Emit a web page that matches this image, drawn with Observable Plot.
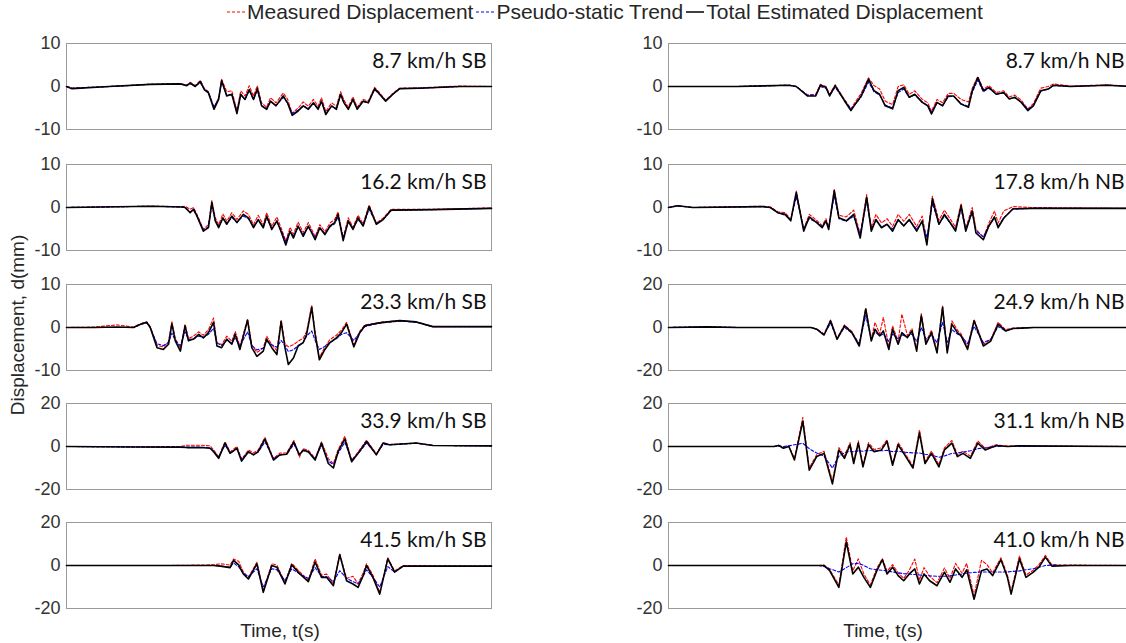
<!DOCTYPE html>
<html><head><meta charset="utf-8">
<script src="https://cdn.jsdelivr.net/npm/d3@7"></script>
<script src="https://cdn.jsdelivr.net/npm/@observablehq/plot@0.6"></script>
<style>
body{margin:0;background:#fff;}
#root{position:relative;width:1126px;height:643px;overflow:hidden;font-family:"Liberation Sans",Arial,sans-serif;color:#262626;}
.panel{position:absolute;}
#legend{position:absolute;top:0px;left:226px;white-space:nowrap;font-size:21px;display:flex;align-items:center;}
#legend .it{display:flex;align-items:center;margin-right:2px;}
#legend svg{margin-right:1px;}
.xt{position:absolute;top:620px;font-size:19px;transform:translateX(-50%);white-space:nowrap;}
#ytitle{position:absolute;left:18px;top:325px;font-size:19px;white-space:nowrap;transform:translate(-50%,-50%) rotate(-90deg);}
</style></head>
<body><div id="root">
<div id="legend">
<span class="it"><svg width="20" height="10"><line x1="1" x2="19" y1="5" y2="5" stroke="#ff0000" stroke-width="1.2" stroke-dasharray="3,2"/></svg>Measured Displacement</span>
<span class="it"><svg width="20" height="10"><line x1="1" x2="19" y1="5" y2="5" stroke="#0000ff" stroke-width="1.2" stroke-dasharray="3,2"/></svg>Pseudo-static Trend</span>
<span class="it"><svg width="20" height="10"><line x1="1" x2="19" y1="5" y2="5" stroke="#000" stroke-width="1.5"/></svg>Total Estimated Displacement</span>
</div>
<div id="ytitle">Displacement, d(mm)</div>
<div class="xt" style="left:280px">Time, t(s)</div>
<div class="xt" style="left:883px">Time, t(s)</div>
</div>
<script>
// ---------- 8.7 km/h SB ----------
const sb87_t = [0,1.3,10,19.7,26.8,28.3,29.1,30.3,31.5,32.4,33.4,34.7,35.8,36.5,37.7,38.9,40.1,41.0,42.0,43.0,44.0,44.9,45.9,47.1,48.0,49.3,51.0,52.0,53.1,54.5,55.7,56.9,58.1,59.2,60.0,61.0,62.4,63.5,64.5,65.3,66.3,67.4,68.4,69.8,71.0,72.5,73.7,75.1,76.8,78.4,83.1,92.5,100];
const sb87_total = [0,-0.5,0,0.5,0.6,0.2,0.8,0,1.2,-0.7,-1.5,-5.3,-3,1.4,-2.2,-1.8,-6.3,-1.8,-3,-0.7,-3,-0.5,-4.5,-5.3,-3.4,-4.5,-2.2,-3.8,-6.7,-5.7,-4.5,-5.3,-3.8,-5.3,-3.4,-6.5,-4.5,-5.3,-1.8,-3.8,-5.3,-3,-5.3,-3.4,-3.8,-0.5,-1.8,-3.4,-1.8,-0.5,-0.4,0,0];
const sb87_meas = [0,-0.4,0,0.5,0.7,0.3,1.0,0.2,1.4,-0.4,-1.2,-5.0,-2.6,1.7,-1.2,-1.0,-5.6,-1.0,-2.2,0.2,-2.2,0.2,-3.8,-4.8,-2.6,-3.8,-1.5,-2.9,-6.2,-5.0,-3.6,-4.6,-3.0,-4.6,-2.6,-5.8,-3.8,-4.6,-1.2,-3.2,-4.8,-2.4,-4.8,-3.0,-3.4,-0.2,-1.5,-3.2,-1.6,-0.4,-0.3,0.1,0];
const sb87_trend = [0,-0.4,0,0.5,0.6,0.3,0.6,0.2,0.8,-0.5,-1.4,-4.8,-2.8,1.0,-2.0,-1.8,-5.8,-2.0,-3.0,-1.0,-3.0,-0.8,-4.4,-5.1,-3.5,-4.4,-2.5,-3.8,-6.3,-5.5,-4.5,-5.1,-3.9,-5.1,-3.6,-6.1,-4.6,-5.1,-2.0,-3.8,-5.1,-3.1,-5.1,-3.5,-3.7,-0.7,-1.9,-3.3,-1.8,-0.5,-0.4,0,0];
// ---------- 16.2 km/h SB ----------
const sb162_t = [0,20,27.2,27.9,29.1,29.9,30.7,32.2,33.4,34.2,35.0,35.8,36.8,37.7,38.9,40.1,41.6,42.8,44.0,45.1,46.3,47.1,48.3,49.5,50.6,51.6,52.6,53.4,54.5,55.7,56.9,58.5,59.6,60.8,62.0,63.1,63.9,65.1,66.3,67.4,68.6,69.8,71.2,72.9,74.5,76.4,86.2,100];
const sb162_total = [0,0.3,0.1,0,-1.2,-0.4,-2,-5.5,-4.7,1.2,-3.1,-4.7,-2.4,-3.9,-2,-3.5,-1.6,-2.4,-4.7,-2.8,-4.7,-2,-5.1,-3.1,-5.9,-8.7,-5.5,-7.1,-4.3,-6.7,-4.3,-7.5,-4.7,-6.3,-4.3,-3.5,-1.6,-7.7,-3.1,-5.1,-2.4,-4.3,0.2,-3.9,-2.8,-0.6,-0.5,-0.2];
const sb162_meas = [0,0.3,0.2,0.3,-0.4,0,-1.6,-5.0,-4.0,1.6,-2.4,-4.0,-1.5,-3.2,-1.2,-2.8,-0.8,-1.6,-4.0,-1.8,-4.0,-1.2,-4.4,-2.2,-5.0,-7.8,-4.6,-6.2,-3.4,-5.8,-3.5,-6.8,-4.0,-5.6,-3.6,-2.8,-1.0,-7.0,-2.4,-4.6,-1.8,-3.8,0.6,-3.6,-2.5,-0.4,-0.4,-0.1];
const sb162_trend = [0,0.3,0.1,0,-1.0,-0.6,-2,-5.2,-4.5,0.6,-3.0,-4.4,-2.6,-3.7,-2.3,-3.4,-2.0,-2.6,-4.4,-3.0,-4.4,-2.4,-4.8,-3.4,-5.5,-7.9,-5.6,-6.6,-4.6,-6.2,-4.6,-6.9,-4.9,-6.0,-4.5,-3.8,-2.2,-7.0,-3.4,-4.9,-2.8,-4.2,-0.4,-3.7,-2.8,-0.7,-0.5,-0.2];
// ---------- 23.3 km/h SB ----------
const sb233_t = [0,6.4,11.9,15.8,16.6,17.8,18.9,19.7,21.3,22.8,24.0,24.8,25.6,26.8,27.9,28.7,29.9,31.1,32.2,33.4,34.6,35.4,36.5,37.7,38.9,39.7,40.8,42.6,43.6,44.8,46.3,47.1,48.3,49.5,50.5,51.4,52.2,53.4,54.5,55.7,56.5,57.7,58.5,59.5,60.8,62.0,63.5,64.7,65.9,67.6,69.0,70.2,72.1,74.5,78.4,82.3,86.2,100];
const sb233_total = [0,0,0.1,0,0.4,0.9,1.2,0,-4.7,-5.1,-3.9,0.9,-3.1,-5.5,0.4,-3.1,-2.7,-1.6,-2.4,-1.2,1.2,-4.3,-4.7,-2.7,-3.9,-1.6,-5.1,1.7,-4.7,-6.7,-5.5,-2.7,-4.7,-6.3,1.4,-4.7,-8.6,-7.1,-4.3,-3.5,-1.6,4.7,-1.6,-7.5,-5.1,-3.5,-2.4,-1.2,0.8,-4.5,-1.2,0.4,0.8,1.2,1.6,1.3,0.2,0.2];
const sb233_meas = [0,0.1,0.6,0.1,0.5,1.0,1.3,0.2,-4.2,-4.5,-3.3,1.3,-2.6,-4.8,0.8,-2.6,-2.0,-1.0,-1.8,-0.5,2.2,-3.5,-4.0,-2.0,-3.2,-0.9,-4.4,2.0,-4.0,-5.8,-4.8,-2.0,-4.0,-5.4,1.8,-3.8,-4.5,-4.0,-3.2,-2.5,-0.9,5.2,-1.0,-7.0,-4.5,-2.8,-1.8,-0.6,1.2,-4.0,-0.9,0.6,0.9,1.3,1.6,1.3,0.2,0.2];
const sb233_trend = [0,0,0,0,0.3,0.8,1.0,0,-3.8,-4.2,-3.5,-1.3,-3.0,-4.2,-1.0,-2.8,-2.6,-2.0,-2.3,-1.6,-0.2,-3.6,-4.2,-3.0,-3.6,-2.4,-4.3,-1.0,-4.2,-5.2,-4.8,-3.2,-4.0,-4.6,-3.0,-4.2,-5.6,-5.2,-4.2,-3.5,-2.0,-0.8,-3.0,-5.1,-4.4,-3.5,-2.6,-1.6,-1.2,-3.0,-1.2,0.2,0.7,1.1,1.5,1.2,0.2,0.2];
// ---------- 33.9 km/h SB ----------
const sb339_t = [0,15.8,26.8,28.3,31.5,33.8,34.6,35.8,37.3,38.5,40.1,41.2,42.8,44.0,45.1,46.7,48.7,50.2,51.8,53.5,54.8,55.7,56.9,58.5,60.0,61.6,62.8,63.9,65.5,67.1,68.6,70.6,72.9,74.5,76.0,82.3,86.2,100];
const sb339_total = [0,-0.2,-0.3,-0.5,-0.5,-0.8,-2.4,-5.5,1.6,-3.2,-0.8,-6.8,-2.4,-3.9,-2.4,3.5,-6.3,-3.9,-3.6,2.1,-3.9,-1.6,-2.4,-6.3,1.6,-7.9,-10,-2.4,3.5,-7.1,-3.2,2.4,-3.9,1.6,0.8,1.6,0.5,0.3];
const sb339_meas = [0,-0.1,0,0.6,0.6,0.3,-1.5,-4.8,2.2,-2.5,0,-6.0,-1.6,-3.0,-1.6,4.2,-5.6,-3.0,-3.0,2.8,-5.0,-1.0,-1.8,-5.5,2.2,-5.6,-8.0,-1.5,4.8,-6.4,-2.6,3.0,-3.4,1.8,0.9,1.6,0.5,0.3];
const sb339_trend = [0,-0.2,-0.3,-0.3,-0.3,-0.6,-2.2,-4.8,0.6,-3.0,-1.2,-5.8,-2.8,-3.8,-2.6,2.2,-5.6,-3.9,-3.6,1.0,-3.6,-2.0,-2.6,-5.6,0.6,-6.8,-8.4,-3.2,2.0,-6.4,-3.4,1.6,-3.6,1.0,0.7,1.5,0.5,0.3];
// ---------- 41.5 km/h SB ----------
const sb415_t = [0,23.6,34.6,36.2,38.5,39.3,40.5,41.6,42.8,44.8,46.3,48.3,49.5,51.4,53.0,54.9,56.9,58.5,60.0,61.2,62.8,64.3,65.9,67.4,68.6,69.8,70.6,72.1,73.7,75.6,77.2,79.2,100];
const sb415_total = [0,0,0,-0.3,-1.0,2.4,0.3,-3.9,-6.3,0.8,-12.5,0,-0.8,-8.6,0.3,-3.9,-7.5,1.6,-5.5,-5.5,-9.4,5.0,-7.1,-8.6,-10.2,-4.7,0,-5.5,-13.3,3.1,-3.1,-0.3,-0.3];
const sb415_meas = [0,0,0.3,0.8,0.2,3.0,2.0,-3.0,-5.5,1.5,-11.5,0.8,0.2,-7.8,1.0,-3.0,-6.8,3.1,-4.5,-4.0,-8.6,5.4,-6.0,-5.0,-8.5,-3.5,0.8,-4.5,-12.5,3.6,-2.5,0,-0.3];
const sb415_trend = [0,0,0,-0.2,-0.8,1.2,-0.6,-3.6,-5.2,-1.5,-10.0,-1.5,-2.0,-7.0,-1.5,-4.0,-6.0,-1.0,-5.0,-5.2,-7.5,-2.4,-6.0,-7.5,-8.6,-5.0,-2.0,-5.5,-10.0,-0.5,-3.0,-0.4,-0.3];
// ---------- 8.7 km/h NB ----------
const nb87_t = [0,14.8,26.0,27.6,30.0,31.8,32.8,34.0,34.8,36.0,38.0,39.4,40.6,41.6,43.2,44.4,45.6,46.8,48.4,49.6,50.8,52.0,53.2,54.8,56.0,56.8,58.0,59.2,60.4,61.6,63.2,64.8,65.6,66.8,68.0,69.2,70.8,72.4,73.6,74.8,76.2,77.6,78.8,80.4,82.0,83.2,86.8,94.8,100];
const nb87_total = [0,0,0.3,0,-2.2,-2.2,0.3,-0.2,-2.2,0.2,-3.3,-5.6,-3.7,-2.2,1.7,-1,-1.8,-4.5,-5.2,-1,-0.2,-2.5,-1.8,-3.7,-4.5,-6.4,-3.7,-4.5,-2.2,-2.2,-4.1,-4.8,-1,2.1,-1,-0.2,-1.8,-1.4,-2.9,-2.5,-3.7,-5.6,-4.5,-1,-0.6,0.3,0,0.3,0];
const nb87_meas = [0,0,0.3,0,-2.0,-1.8,0.5,0,-1.8,0.4,-3.0,-5.2,-3.2,-1.6,2.0,0.2,-0.6,-3.4,-4.2,0,0.4,-1.8,-1.0,-3.0,-3.8,-5.8,-3.0,-3.8,-1.6,-1.6,-3.0,-3.6,-0.4,2.3,-0.6,0.2,-1.4,-1.0,-2.4,-2.0,-3.2,-5.2,-4.0,-0.4,0,0.6,0.1,0.4,0];
const nb87_trend = [0,0,0.3,0,-2.0,-2.0,0,-0.4,-2.0,-0.2,-3.2,-5.2,-3.8,-2.4,1.0,-1.2,-2.0,-4.3,-5.0,-1.4,-0.6,-2.5,-2.0,-3.6,-4.4,-6.0,-3.8,-4.4,-2.4,-2.3,-4.0,-4.6,-1.4,1.5,-1.2,-0.4,-1.8,-1.5,-2.8,-2.6,-3.6,-5.3,-4.4,-1.1,-0.6,0.2,0,0.3,0];
// ---------- 17.8 km/h NB ----------
const nb178_t = [0,2.0,5.2,20.4,22.0,23.6,25.2,26.4,27.6,29.2,30.4,32.0,33.2,34.0,34.6,35.8,36.8,38.4,40.0,41.4,42.8,43.8,44.8,46.0,47.2,48.4,49.6,50.8,52.0,53.6,54.8,55.8,57.0,58.4,59.6,60.8,62.0,63.2,64.2,65.6,66.4,68.0,69.2,70.4,71.2,72.4,74.4,78.8,100];
const nb178_total = [0,0.4,0,0.2,0,-1.2,-1.6,-3.1,3.5,-5.5,-2.2,-3.5,-4.7,-3.1,-5.1,3.9,-2.4,-3.1,-1.6,-7.1,2.4,-5.5,-2.8,-4.7,-3.9,-5.5,-2.8,-4.3,-2.8,-5.5,-3.1,-8.7,2.0,-3.9,-1.6,-3.5,-5.5,0.4,-5.5,-0.8,-5.9,-7.5,-4.3,-2.2,-4.7,-2.5,-0.3,-0.2,-0.2];
const nb178_meas = [0,0.4,0,0.3,0.1,-1.0,-1.2,-2.8,3.8,-5.0,-1.6,-3.0,-4.2,-2.6,-4.6,4.2,-1.8,-2.2,-0.6,-6.2,3.0,-4.6,-1.6,-3.6,-2.6,-4.4,-1.6,-3.2,-1.6,-4.4,-2.0,-7.8,2.6,-3.0,-0.6,-2.6,-4.6,1.0,-4.8,0,-5.0,-7.0,-3.6,-0.8,-3.6,-0.8,0.2,0,-0.2];
const nb178_trend = [0,0.4,0,0.2,0,-1.2,-1.8,-2.8,2.5,-4.8,-2.6,-3.4,-4.4,-3.2,-4.6,2.8,-2.6,-3.2,-2.0,-6.2,1.5,-5.0,-3.0,-4.5,-3.9,-5.0,-3.0,-4.2,-3.0,-5.0,-3.4,-7.0,1.0,-3.8,-2.0,-3.5,-5.0,-0.4,-5.0,-1.2,-5.4,-6.8,-4.3,-2.4,-4.4,-2.4,-0.4,-0.2,-0.2];
// ---------- 24.9 km/h NB ----------
const nb249_t = [0,8.4,14.8,30.8,32.0,33.6,35.0,36.4,38.0,39.6,41.2,42.6,43.8,44.6,45.6,46.4,47.6,48.4,49.6,50.4,51.6,52.6,53.6,54.6,55.6,56.8,58.0,59.2,60.2,61.2,62.4,63.2,64.6,66.0,68.0,69.6,71.2,72.8,74.4,78.8,100];
const nb249_total = [0,0.3,0,0,-0.8,-3.5,3.1,-5.5,0.8,-2.4,-8.6,8.6,-6.3,-0.8,-3.9,-1.6,-10.2,-0.8,-7.8,-2.4,-4.7,-1.6,-11,5.5,-7.8,-2.4,-11.8,9.4,-11.8,1.6,-2.4,-3.9,-10.2,3.1,-8.6,-6.3,1.6,-1.6,-0.5,0,0];
const nb249_meas = [0,0.3,0,0,-0.6,-3.0,3.5,-5.0,1.2,-1.8,-8.0,9.0,-5.5,2.4,-3.0,4.7,-9.0,0.8,-6.5,6.3,-3.8,-0.5,-10,6.5,-6.8,-1.2,-10.8,10,-10.8,3.1,-1.2,-3.0,-9.0,3.8,-7.8,-5.5,2.4,-1.0,-0.3,0,0];
const nb249_trend = [0,0.3,0,0,-0.8,-3.2,2.0,-5.0,0,-2.6,-7.5,5.5,-5.5,-2.0,-3.9,-3.0,-6.5,-3.0,-5.5,-3.5,-4.2,-3.0,-6.5,0,-5.5,-3.5,-7.0,2.5,-7.0,-1.0,-3.0,-4.0,-7.5,0.5,-7.0,-5.5,0.5,-1.6,-0.5,0,0];
// ---------- 31.1 km/h NB ----------
const nb311_t = [0,22.8,23.8,24.8,26.0,27.2,29.0,30.4,32.0,33.6,35.4,36.8,38.0,39.2,40.0,41.0,42.0,43.2,44.4,46.0,47.2,48.4,49.6,50.8,52.8,54.2,55.4,56.8,58.4,59.6,61.2,62.4,63.6,65.2,66.8,68.4,70.8,73.2,75.6,100];
const nb311_total = [0,0,0.5,-0.8,0,-6.3,11.8,-11,-4.7,-3.2,-17.4,-1.6,-5.5,0.8,-7.9,1.6,-9.5,0.8,-2.4,-1.6,2.4,-8.7,0.8,-3.2,-10,6.3,-7.9,-3.2,-9.5,-1.6,1.6,-4.7,-3.2,-5.5,1.6,-1.6,0.5,0,0.3,0];
const nb311_meas = [0,0,0.6,-0.5,0.3,-5.5,13.5,-10,-3.8,-2.2,-16,-0.5,-4.5,1.8,-6.8,2.6,-8.5,1.8,-1.4,-0.6,3.2,-7.8,1.8,-2.2,-9.0,7.8,-7.0,-2.2,-8.5,-0.6,2.8,-3.8,-2.2,-4.5,2.6,-0.8,0.8,0.2,0.3,0];
const nb311_trend = [0,0,0.2,0,0.3,0.8,1.5,-1.0,-3.0,-4.5,-10,-4.5,-3.0,-2.2,-2.4,-2.0,-2.2,-1.8,-2.0,-2.0,-1.8,-2.4,-2.2,-2.6,-3.0,-3.0,-3.6,-4.0,-5.0,-4.4,-3.2,-3.0,-2.6,-2.0,-1.0,-0.6,0,0,0,0];
// ---------- 41.0 km/h NB ----------
const nb410_t = [0,32.4,33.6,34.8,36.8,38.4,39.8,41.0,42.2,43.6,45.0,46.2,47.2,48.4,49.6,50.8,52.0,53.2,54.2,55.2,56.4,58.0,59.6,60.8,62.0,63.4,64.4,66.0,67.6,68.8,70.0,71.8,73.2,74.0,75.8,77.2,78.8,80.0,81.4,82.8,86.8,100];
const nb410_total = [0,0,0,-2.4,-10.2,11,-3.9,-0.8,-5.5,-10.2,-2.4,2.7,-3.9,-0.8,-4.7,-7.1,-3.9,-1.6,-8.6,-3.9,-7.1,-9.4,-3.1,-7.8,-1.6,-5.5,-2,-15.7,-2.4,-1.6,-4.7,2.7,-5.5,-13.3,3.1,-5.5,-3.1,-0.8,3.9,-0.3,0,0];
const nb410_meas = [0,0,0.2,-1.8,-9.0,13.3,-2.5,3.1,-4.0,-9.0,-1.2,3.2,-2.6,0.4,-3.4,-6.0,-2.2,3.0,-6.8,-1.0,-5.0,-8.0,-1.2,-6.0,1.0,-3.6,1.0,-14.0,2.4,0.4,-3.4,3.6,-4.4,-12,4.5,-4.4,-2.2,0.4,4.7,0.3,0.2,0];
const nb410_trend = [0,0,-0.5,-1.5,-3.0,-1.0,0.8,1.0,0,-1.5,-2.0,-2.2,-2.6,-3.0,-3.4,-3.8,-4.0,-4.2,-4.4,-4.6,-4.8,-5.0,-5.0,-4.8,-4.4,-4.0,-3.6,-3.2,-3.0,-3.0,-3.0,-3.0,-3.0,-2.8,-2.5,-2.0,-1.5,-0.8,0,0.2,0,0];

const rowTops = [43, 164, 284, 403, 522];
const panels = [
  {col:0,row:0,label:"8.7 km/h SB", ymax:10, t:sb87_t, total:sb87_total, meas:sb87_meas, trend:sb87_trend},
  {col:0,row:1,label:"16.2 km/h SB", ymax:10, t:sb162_t, total:sb162_total, meas:sb162_meas, trend:sb162_trend},
  {col:0,row:2,label:"23.3 km/h SB", ymax:10, t:sb233_t, total:sb233_total, meas:sb233_meas, trend:sb233_trend},
  {col:0,row:3,label:"33.9 km/h SB", ymax:20, t:sb339_t, total:sb339_total, meas:sb339_meas, trend:sb339_trend},
  {col:0,row:4,label:"41.5 km/h SB", ymax:20, t:sb415_t, total:sb415_total, meas:sb415_meas, trend:sb415_trend},
  {col:1,row:0,label:"8.7 km/h NB", ymax:10, t:nb87_t, total:nb87_total, meas:nb87_meas, trend:nb87_trend},
  {col:1,row:1,label:"17.8 km/h NB", ymax:10, t:nb178_t, total:nb178_total, meas:nb178_meas, trend:nb178_trend},
  {col:1,row:2,label:"24.9 km/h NB", ymax:20, t:nb249_t, total:nb249_total, meas:nb249_meas, trend:nb249_trend},
  {col:1,row:3,label:"31.1 km/h NB", ymax:20, t:nb311_t, total:nb311_total, meas:nb311_meas, trend:nb311_trend},
  {col:1,row:4,label:"41.0 km/h NB", ymax:20, t:nb410_t, total:nb410_total, meas:nb410_meas, trend:nb410_trend}
];

const rows = (t, v) => t.map((x, i) => ({t: x, v: v[i]})).filter(d => d.v !== undefined);
const root = document.getElementById("root");
const cols = [
  {left: 0, width: 500, marginLeft: 66, marginRight: 9, dx: -5},
  {left: 563, width: 575, marginLeft: 105, marginRight: 7, dx: -7}
];
const MT = 8, MB = 8, FH = 86;

for (const p of panels) {
  const c = cols[p.col];
  const chart = Plot.plot({
    width: c.width, height: FH + MT + MB,
    marginLeft: c.marginLeft, marginRight: c.marginRight, marginTop: MT, marginBottom: MB,
    x: {domain: [0, 100], axis: null},
    y: {domain: [-p.ymax, p.ymax], ticks: [-p.ymax, 0, p.ymax], tickSize: 0, tickPadding: 6, label: null, tickFormat: d => String(d)},
    style: {fontSize: "18px", fontFamily: "'Liberation Sans', Arial, sans-serif", color: "#333", background: "transparent", overflow: "visible"},
    marks: [
      Plot.frame({stroke: "#9a9a9a", strokeWidth: 1}),
      Plot.line(rows(p.t, p.meas), {x: "t", y: "v", stroke: "#ff0000", strokeWidth: 1.1, strokeDasharray: "3,2"}),
      Plot.line(rows(p.t, p.trend), {x: "t", y: "v", stroke: "#0000ff", strokeWidth: 1.1, strokeDasharray: "3,2"}),
      Plot.line(rows(p.t, p.total), {x: "t", y: "v", stroke: "#000000", strokeWidth: 1.6}),
      Plot.text([p.label], {frameAnchor: "top-right", dx: c.dx, dy: 10, lineAnchor: "top", textAnchor: "end",
        fontFamily: "Lato, sans-serif", fontSize: 21, fill: "#111"})
    ]
  });
  chart.classList.add("panel");
  chart.style.left = c.left + "px";
  chart.style.top = (rowTops[p.row] - MT) + "px";
  root.appendChild(chart);
}
</script>
</body></html>
